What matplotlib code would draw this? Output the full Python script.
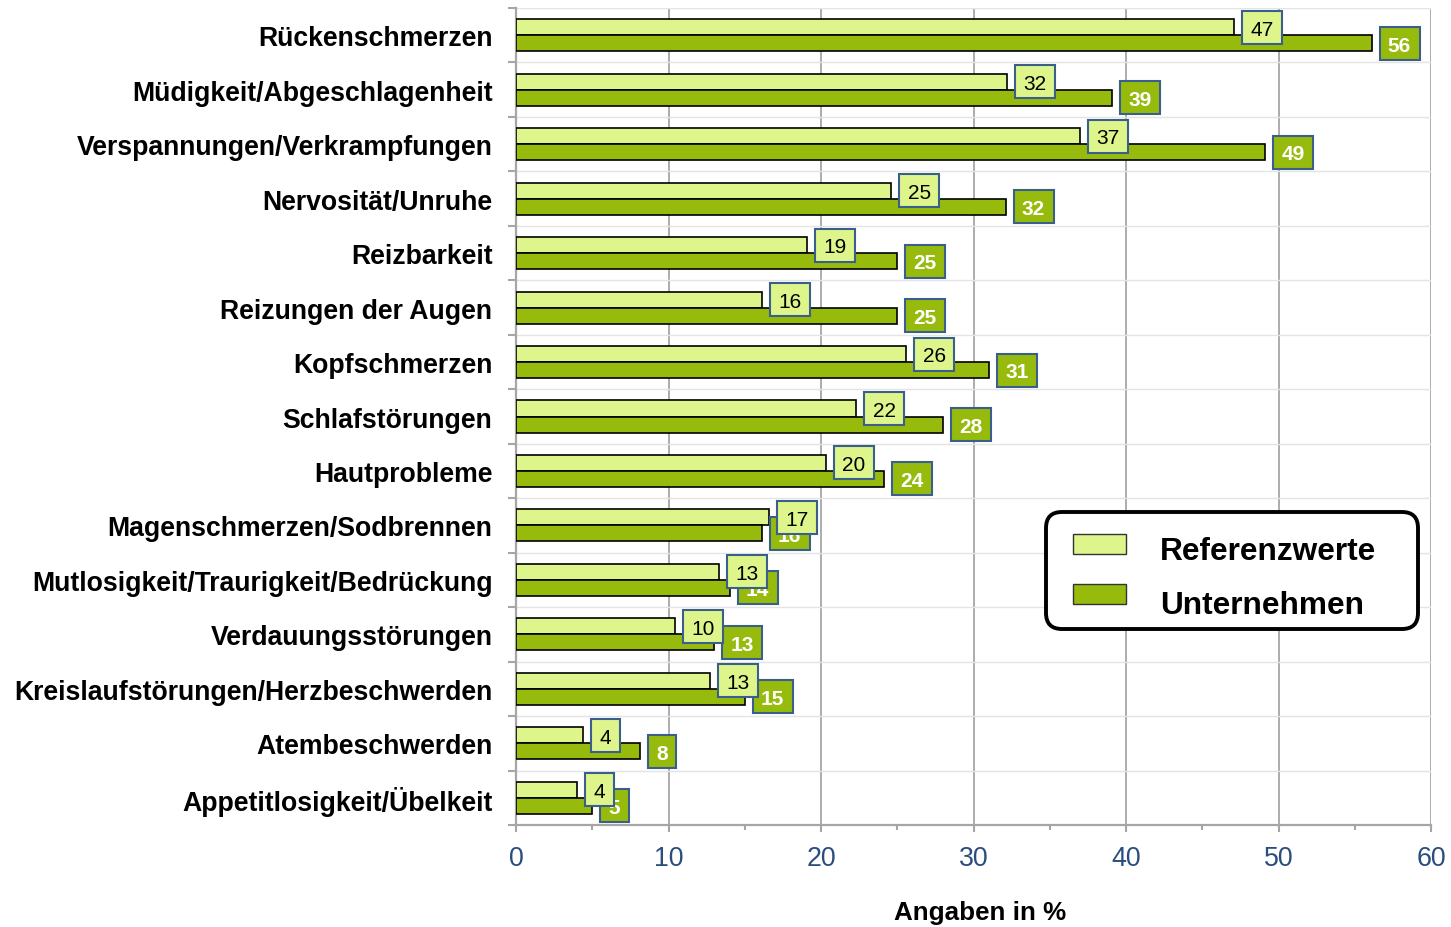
import numpy as np
import matplotlib
matplotlib.use("Agg")
import matplotlib.pyplot as plt
from matplotlib.patches import Rectangle, FancyBboxPatch
from matplotlib.transforms import ScaledTranslation, IdentityTransform

plt.rcParams['font.family'] = ['Liberation Sans', 'DejaVu Sans']

categories = ["Rückenschmerzen", "Müdigkeit/Abgeschlagenheit", "Verspannungen/Verkrampfungen",
              "Nervosität/Unruhe", "Reizbarkeit", "Reizungen der Augen", "Kopfschmerzen",
              "Schlafstörungen", "Hautprobleme", "Magenschmerzen/Sodbrennen",
              "Mutlosigkeit/Traurigkeit/Bedrückung", "Verdauungsstörungen",
              "Kreislaufstörungen/Herzbeschwerden", "Atembeschwerden", "Appetitlosigkeit/Übelkeit"]
referenz = [47.1, 32.2, 37.0, 24.6, 19.1, 16.1, 25.6, 22.3, 20.3, 16.6, 13.3, 10.4, 12.7, 4.4, 4.0]
unternehmen = [56.1, 39.1, 49.1, 32.1, 25.0, 25.0, 31.0, 28.0, 24.1, 16.1, 14.0, 13.0, 15.0, 8.1, 5.0]
xticks = [0, 10, 20, 30, 40, 50, 60]
series_names = ["Referenzwerte", "Unternehmen"]

LIGHT = '#DEF58C'
DARK = '#97BB0D'
BOXEDGE = '#3A5F8C'
TICKBLUE = '#2A4D7E'
GRIDGRAY = '#A6A6A6'

W, H = 1451, 928
fig = plt.figure(figsize=(W / 100, H / 100), dpi=100)
ax = fig.add_axes([516 / W, 1 - 826 / H, 915 / W, 817 / H])

n = len(categories)
idx = np.arange(n)
bh = 0.294

ax.barh(idx - bh / 2, referenz, height=bh, color=LIGHT, edgecolor='black', linewidth=1.2, zorder=3)
ax.barh(idx + bh / 2, unternehmen, height=bh, color=DARK, edgecolor='black', linewidth=1.2, zorder=3)

ax.set_xlim(0, 60)
ax.set_ylim(n - 0.5, -0.5)

# x axis
ax.set_xticks(xticks)
ax.set_xticklabels([str(t) for t in xticks], color=TICKBLUE, fontsize=19.3)
ax.set_xticks(np.arange(5, 60, 10), minor=True)
ax.tick_params(axis='x', which='major', direction='out', length=5, width=1.5, color=GRIDGRAY, pad=9.5)
ax.tick_params(axis='x', which='minor', direction='out', length=3.5, width=1.5, color=GRIDGRAY)
ax.grid(axis='x', which='major', color=GRIDGRAY, linewidth=1.3, zorder=0)

# y axis: ticks at band boundaries, labels at centers
ax.set_yticks(np.arange(-0.5, n, 1.0))
ax.set_yticklabels([])
ax.set_yticks(idx, minor=True)
ax.set_yticklabels(categories, minor=True, fontsize=19.15, fontweight='bold')
ax.tick_params(axis='y', which='major', direction='out', length=6, width=1.5, color=GRIDGRAY)
ax.tick_params(axis='y', which='minor', length=0, pad=17)
ax.grid(axis='y', which='major', color='#E4E4E4', linewidth=1.0, zorder=0)
ax.set_axisbelow(True)

for s in ['top', 'right']:
    ax.spines[s].set_visible(False)
for s in ['left', 'bottom']:
    ax.spines[s].set_color(GRIDGRAY)
    ax.spines[s].set_linewidth(1.6)

fig.text(980 / W, 1 - 913 / H, "Angaben in %", fontsize=18.7, fontweight='bold',
         ha='center', va='center')

# value labels
def add_label(v, yc, fill, tcolor, weight, z):
    s = f"{v:.0f}"
    w = 17 + 11.5 * len(s)
    tr = ScaledTranslation(v, yc, ax.transData)
    ax.add_patch(Rectangle((8, -16.5), w, 33, transform=tr, facecolor=fill,
                           edgecolor=BOXEDGE, linewidth=1.5, zorder=z, clip_on=False))
    ax.annotate(s, xy=(v, yc), xytext=(8 + w / 2, -7.3), textcoords='offset pixels',
                ha='center', va='baseline', fontsize=15, color=tcolor, fontweight=weight,
                zorder=z + 0.5, annotation_clip=False)

for i in range(n):
    add_label(unternehmen[i], idx[i] + bh / 2, DARK, 'white', 'bold', 5)
for i in range(n):
    add_label(referenz[i], idx[i] - bh / 2, LIGHT, 'black', 'normal', 7)

# legend (manual)
ident = IdentityTransform()
fig.add_artist(FancyBboxPatch((1046, H - 630), 372, 117,
                              boxstyle='round,pad=0,rounding_size=16',
                              transform=ident, facecolor='white', edgecolor='black',
                              linewidth=2.8, zorder=10))
for k, (name, col) in enumerate(zip(series_names, [LIGHT, DARK])):
    ytop = 535 + 50 * k
    fig.add_artist(Rectangle((1073, H - ytop - 20), 53, 20, transform=ident,
                             facecolor=col, edgecolor='#333333', linewidth=1.0, zorder=11))
    fig.text(1160 / W, 1 - (560 + 54 * k) / H, name, fontsize=22.8, fontweight='bold',
             ha='left', va='baseline', zorder=12)

fig.savefig("out.png", dpi=100)
